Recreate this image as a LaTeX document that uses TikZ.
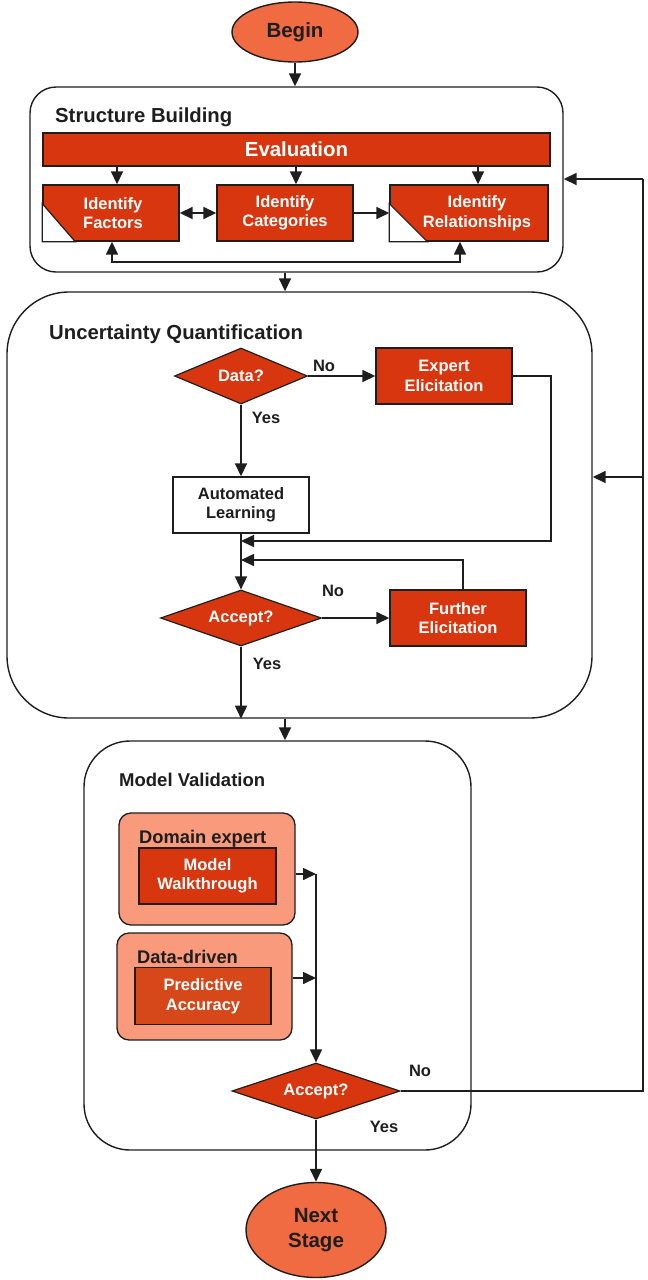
\documentclass[tikz,border=0pt]{standalone}
\usepackage{fontspec}
\setmainfont{Liberation Sans}
\usetikzlibrary{shapes.geometric,arrows.meta,calc}

\definecolor{redbox}{HTML}{D8360E}
\definecolor{ovalfill}{HTML}{F06A42}
\definecolor{salmon}{HTML}{F99A7C}
\definecolor{predbox}{HTML}{D6471A}
\definecolor{ink}{HTML}{1E1E1E}

\tikzset{
  tip/.tip={Triangle[length=13pt,width=12pt]},
  arr/.style={draw=ink, line width=1.6pt, -tip},
  dblarr/.style={draw=ink, line width=1.6pt, tip-tip},
  plain/.style={draw=ink, line width=1.6pt},
  stage/.style={draw=ink, line width=1.4pt, rounded corners=#1},
  redbox/.style={draw=ink, line width=1.4pt, fill=redbox, text=white, inner sep=0pt,
    font=\bfseries\fontsize{16.5}{19.5}\selectfont, align=center},
  boxtext/.style={text=white, inner sep=0pt, font=\bfseries\fontsize{16.5}{19.5}\selectfont, align=center},
  decision/.style={diamond, aspect=2.4, draw=ink, line width=1.2pt, fill=redbox, text=white, inner sep=1pt,
    font=\bfseries\fontsize{16.5}{19.5}\selectfont},
  oval/.style={ellipse, draw=ink, line width=1.4pt, fill=ovalfill, text=ink, inner sep=0pt,
    font=\bfseries\fontsize{20.5}{25.5}\selectfont, align=center},
  title/.style={anchor=base west, inner sep=0pt, text=ink, font=\bfseries\fontsize{20.3}{24}\selectfont},
  answer/.style={inner sep=0pt, text=ink, font=\bfseries\fontsize{16.5}{19}\selectfont},
  group/.style={draw=ink, line width=1.3pt, fill=salmon, rounded corners=12pt, inner sep=0pt},
  white box/.style={draw=ink, line width=1.4pt, fill=white, text=ink, inner sep=0pt,
    font=\bfseries\fontsize{16.5}{19.5}\selectfont, align=center},
}

\begin{document}
\begin{tikzpicture}[x=1pt, y=-1pt]
\useasboundingbox (0,0) rectangle (648,1280);

% ---------------- start ----------------
\node[oval, minimum width=126pt, minimum height=60pt] (begin) at (295,32) {Begin};

% ---------------- structure building ----------------
\node[stage=26pt, minimum width=533pt, minimum height=185pt, inner sep=0pt] (sb) at (296.5,179.5) {};
\node[title] (sbtitle) at (55,122) {Structure Building};
\node[draw=ink, line width=1.4pt, fill=redbox, text=white, inner sep=0pt,
      minimum width=507pt, minimum height=33pt,
      font=\bfseries\fontsize{20.4}{24}\selectfont] (eval) at (296.5,149.5) {Evaluation};

\node[redbox, minimum width=136pt, minimum height=56pt] (fac) at (111,213) {};
\node[redbox, minimum width=136pt, minimum height=56pt] (cat) at (285,213) {};
\node[redbox, minimum width=158pt, minimum height=56pt] (rel) at (469,213) {};
% folded corners
\filldraw[fill=white, draw=ink, line width=1.2pt] (fac.south west) -- ++(0,-38) -- ($(fac.south west)+(33,0)$) -- cycle;
\filldraw[fill=white, draw=ink, line width=1.2pt] (rel.south west) -- ++(0,-38) -- ($(rel.south west)+(38,0)$) -- cycle;
\draw[ink, line width=1.4pt] (fac.south west) rectangle (fac.north east);
\draw[ink, line width=1.4pt] (rel.south west) rectangle (rel.north east);
\node[boxtext] (factxt) at (113,213) {Identify\\Factors};
\node[boxtext] (cattxt) at (285,213) {Identify\\Categories};
\node[boxtext] (reltxt) at (477,213) {Identify\\Relationships};

\draw[arr] ([xshift=6pt]fac.north |- eval.south) -- ([xshift=6pt]fac.north);
\draw[arr] ([xshift=11pt]cat.north |- eval.south) -- ([xshift=11pt]cat.north);
\draw[arr] ([xshift=9pt]rel.north |- eval.south) -- ([xshift=9pt]rel.north);
\draw[dblarr] (fac.east) -- (cat.west);
\draw[arr] (cat.east) -- (rel.west);
\draw[dblarr] ([xshift=1pt]fac.south) -- ++(0,20) -| ([xshift=-9pt]rel.south);

\draw[arr] (begin.south) -- (begin.south |- sb.north);

% ---------------- uncertainty quantification ----------------
\node[stage=62pt, minimum width=585pt, minimum height=426pt, inner sep=0pt] (uq) at (299.5,505) {};
\node[title] (uqtitle) at (49,339) {Uncertainty Quantification};

\node[decision, minimum width=133pt, minimum height=56pt] (data) at (241,376) {Data?};
\node[redbox, minimum width=136pt, minimum height=56pt] (exp) at (444,376) {Expert\\Elicitation};
\node[white box, minimum width=136pt, minimum height=56pt] (al) at (241,505) {Automated\\Learning};
\node[decision, minimum width=161pt, minimum height=56pt] (acc) at (241,618) {Accept?};
\node[redbox, minimum width=136pt, minimum height=56pt] (fur) at (458,618) {Further\\Elicitation};

\coordinate (join1) at (241,541);
\coordinate (join2) at (241,560);

\draw[arr] (data.east) -- (exp.west);
\node[answer] (no1) at (324,366) {No};
\draw[arr] (data.south) -- (al.north);
\node[answer] (yes1) at (266,418) {Yes};
\draw[arr] (exp.east) -- ++(38,0) |- (join1);
\draw[arr] (al.south) -- (acc.north);
\draw[arr] ([xshift=5pt]fur.north) |- (join2);
\draw[arr] (acc.east) -- (fur.west);
\node[answer] (no2) at (333,591) {No};
\draw[arr] (acc.south) -- (acc.south |- uq.south);
\node[answer] (yes2) at (267,664) {Yes};

\draw[arr] (sb.south -| cat) -- (uq.north -| cat);

% ---------------- model validation ----------------
\node[stage=46pt, minimum width=387pt, minimum height=409pt, inner sep=0pt] (mv) at (277.5,945.5) {};
\node[title, font=\bfseries\fontsize{18.5}{22}\selectfont] (mvtitle) at (119,786) {Model Validation};

\node[group, minimum width=176pt, minimum height=112pt] (dom) at (207,869) {};
\node[title, font=\bfseries\fontsize{18.3}{22}\selectfont] (domtitle) at (139,843) {Domain expert};
\node[redbox, minimum width=137pt, minimum height=56pt] (walk) at (207.5,876) {Model\\Walkthrough};

\node[group, minimum width=175pt, minimum height=107pt] (dd) at (204.5,986.5) {};
\node[title, font=\bfseries\fontsize{18.3}{22}\selectfont] (ddtitle) at (137,963) {Data-driven};
\node[redbox, fill=predbox, minimum width=136pt, minimum height=57pt] (pred) at (203,996) {Predictive\\Accuracy};

\node[decision, minimum width=168pt, minimum height=56pt] (mvacc) at (316,1091) {Accept?};
\node[oval, minimum width=140pt, minimum height=95pt] (next) at (316,1230) {Next\\Stage};

\coordinate (vtop) at (316,874);
\draw[arr] (dom.east |- vtop) -- (vtop);
\draw[arr] (vtop) -- (mvacc.north);
\draw[arr] ([yshift=8.5pt]dd.east) -- ([yshift=8.5pt]dd.east -| vtop);
\draw[arr] (mvacc.south) -- (next.north);
\node[answer] (no3) at (420,1071) {No};
\node[answer] (yes3) at (384,1127) {Yes};

\draw[arr] (uq.south -| cat) -- (mv.north -| cat);

% ---------------- feedback loop ----------------
\coordinate (rtop) at (643,179);
\coordinate (rmid) at (643,477);
\draw[plain] (mvacc.east) -| (rtop);
\draw[arr] (rtop) -- (sb.east |- rtop);
\draw[arr] (rmid) -- (uq.east |- rmid);
\end{tikzpicture}
\end{document}
